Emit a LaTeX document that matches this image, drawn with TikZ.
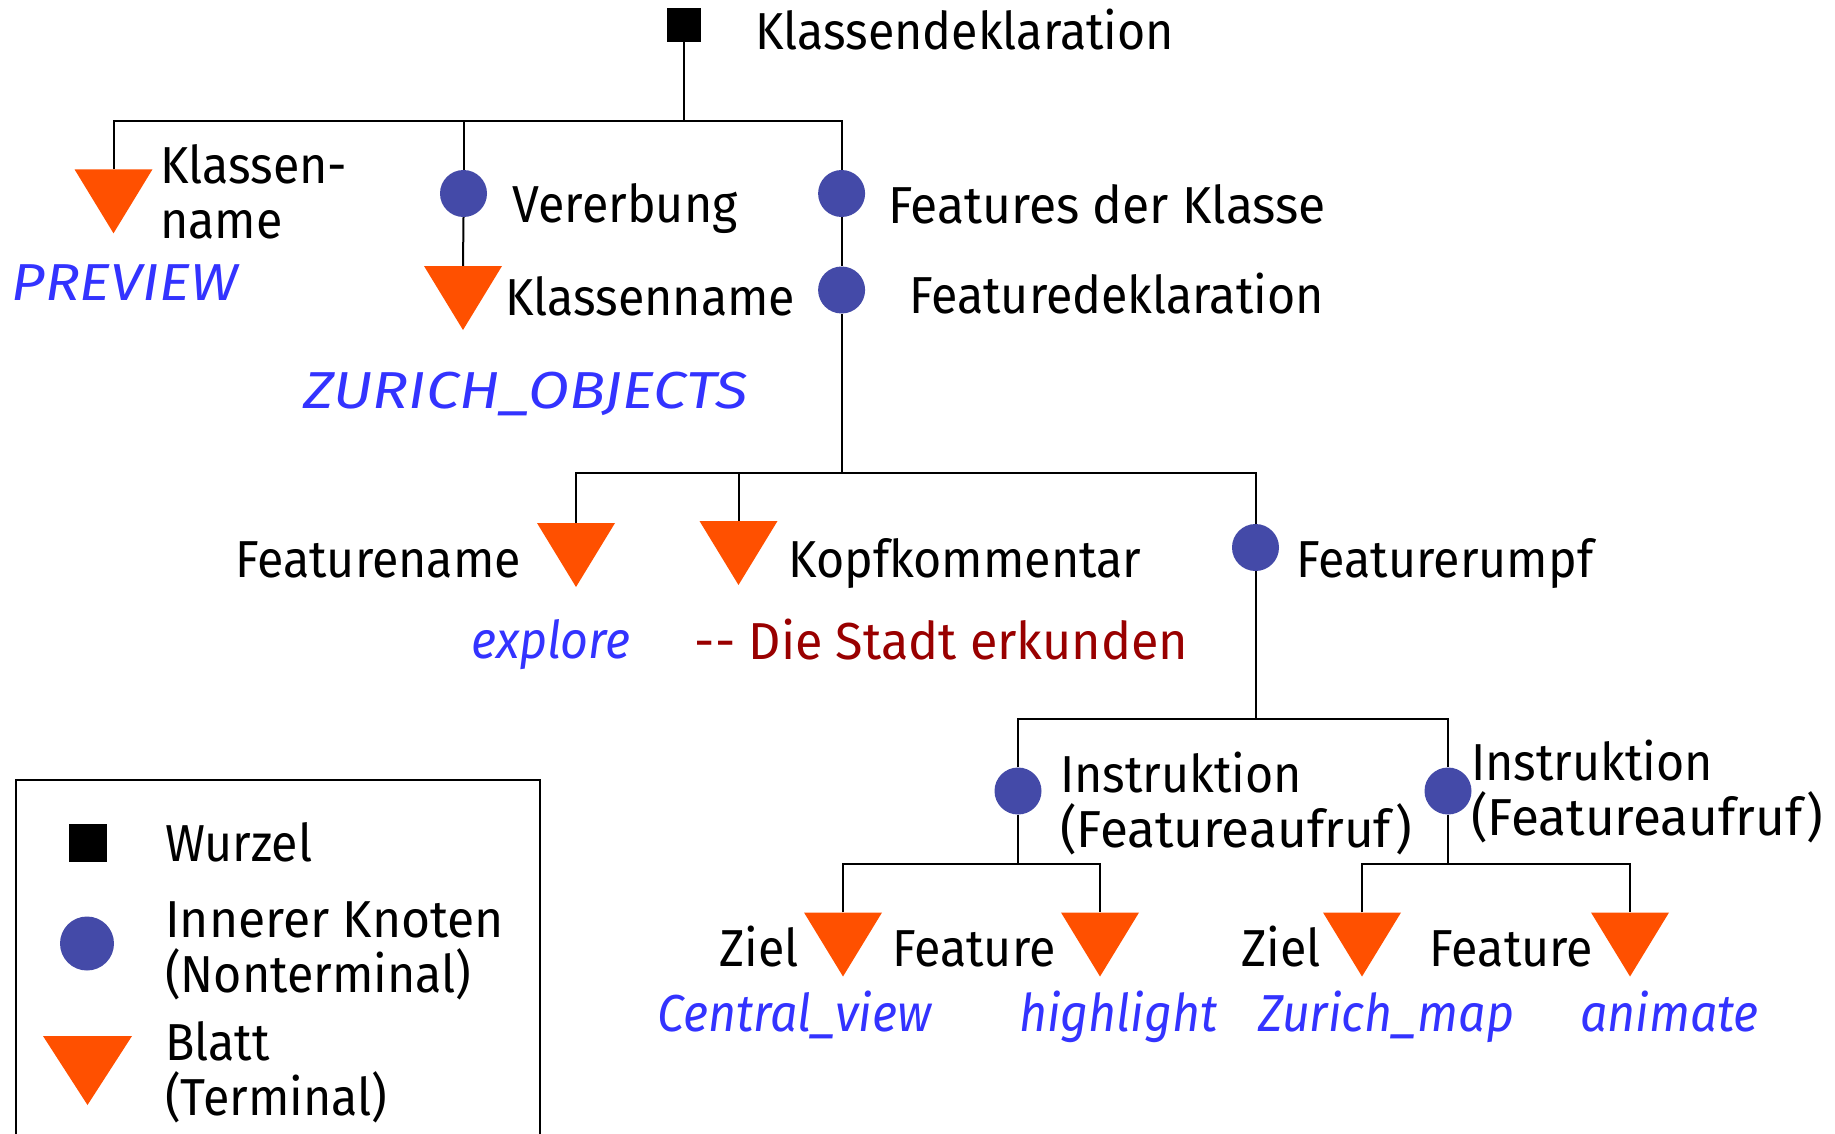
\documentclass[tikz,border=0pt]{standalone}
\usepackage{fontspec}
\setmainfont{Fira Sans}[FakeStretch=0.93]
\definecolor{leafc}{RGB}{255,80,0}
\definecolor{innerc}{RGB}{68,74,168}
\definecolor{termc}{RGB}{51,51,255}
\definecolor{commc}{RGB}{153,0,0}
\tikzset{
  lbl/.style={anchor=base west, inner sep=0pt, align=left, font=\fontsize{52}{55}\selectfont},
  term/.style={lbl, text=termc, font=\fontsize{52}{55}\selectfont\itshape},
  comm/.style={lbl, text=commc},
  rootbox/.style={rectangle, fill=black, minimum size=34pt, inner sep=0pt},
  inner/.style={circle, fill=innerc, minimum size=47pt, inner sep=0pt},
  leaf/.style={rectangle, minimum width=78pt, minimum height=64pt, inner sep=0pt,
    path picture={\fill[leafc] (path picture bounding box.north west) -- (path picture bounding box.north east) -- (path picture bounding box.south) -- cycle;}},
  edge/.style={draw=black, line width=2pt},
}
\begin{document}
\begin{tikzpicture}[x=1pt,y=-1pt]
\useasboundingbox[fill=white] (0,0) rectangle (1835,1133);

% bars
\coordinate (bar1) at (0,120.7);
\coordinate (bar2) at (0,472.6);
\coordinate (bar3) at (0,718.7);
\coordinate (bar4) at (0,864);

% shapes
\node[rootbox] (root) at (683.5,25) {};
\node[leaf] (tkn) at (113.5,201.3) {};
\node[inner] (cver) at (463.5,193.5) {};
\node[leaf] (tkn2) at (463,298) {};
\node[inner] (cfk) at (841.6,193.5) {};
\node[inner] (cfd) at (841.6,290) {};
\node[leaf] (tfn) at (576,555) {};
\node[leaf] (tkk) at (738.5,553) {};
\node[inner] (cfr) at (1255.5,547.5) {};
\node[inner] (ci1) at (1018,791) {};
\node[inner] (ci2) at (1448,791) {};
\node[leaf] (tz1) at (843,944.5) {};
\node[leaf] (tf1) at (1100,944.5) {};
\node[leaf] (tz2) at (1362,944.5) {};
\node[leaf] (tf2) at (1630,944.5) {};

% connectors
\draw[edge] (root.south) -- (root.south |- bar1);
\draw[edge] (tkn.north) -- (tkn.north |- bar1) -- (cfk.north |- bar1) -- (cfk.north);
\draw[edge] (cver.north) -- (cver.north |- bar1);
\draw[edge] (cver.south) -- (tkn2.north);
\draw[edge] (cfk.south) -- (cfd.north);
\draw[edge] (cfd.south) -- (cfd.south |- bar2);
\draw[edge] (tfn.north) -- (tfn.north |- bar2) -- (cfr.north |- bar2) -- (cfr.north);
\draw[edge] (tkk.north) -- (tkk.north |- bar2);
\draw[edge] (cfr.south) -- (cfr.south |- bar3);
\draw[edge] (ci1.north) -- (ci1.north |- bar3) -- (ci2.north |- bar3) -- (ci2.north);
\draw[edge] (ci1.south) -- (ci1.south |- bar4);
\draw[edge] (tz1.north) -- (tz1.north |- bar4) -- (tf1.north |- bar4) -- (tf1.north);
\draw[edge] (ci2.south) -- (ci2.south |- bar4);
\draw[edge] (tz2.north) -- (tz2.north |- bar4) -- (tf2.north |- bar4) -- (tf2.north);

% labels (multi-line nodes are placed at the baseline of their last line)
\node[lbl] (lroot) at (755,49) {Klassendeklaration};
\node[lbl] (lkn) at (160,238) {Klassen-\\name};
\node[term] (lprev) at (11.5,300) {\scalebox{1.2}[1]{PREVIEW}};
\node[lbl] (lver) at (512.6,222) {Vererbung};
\node[lbl] (lkn2) at (505,315) {Klassenname};
\node[term] (lzo) at (303,408) {\scalebox{1.24}[1]{ZURICH\_OBJECTS}};
\node[lbl] (lfk) at (888,223) {\scalebox{1.03}[1]{Features der Klasse}};
\node[lbl] (lfd) at (909,313) {Featuredeklaration};
\node[lbl] (lfn) at (235,577) {Featurename};
\node[lbl] (lkk) at (788,577) {Kopfkommentar};
\node[lbl] (lfr) at (1296.5,577) {Featurerumpf};
\node[term] (lexp) at (471,658) {explore};
\node[comm] (lcomm) at (694.6,659) {\scalebox{1.04}[1]{-{}- Die Stadt erkunden}};
\node[lbl] (li1) at (1059.8,847) {Instruktion\\\scalebox{1.06}[1]{(Featureaufruf)}};
\node[lbl] (li2) at (1471,835.5) {Instruktion\\\scalebox{1.06}[1]{(Featureaufruf)}};
\node[lbl] (lz1) at (719,966) {Ziel};
\node[lbl] (lf1) at (892,966) {Feature};
\node[lbl] (lz2) at (1241,966) {Ziel};
\node[lbl] (lf2) at (1429.5,966) {Feature};
\node[term] (lcv) at (657,1031) {Central\_view};
\node[term] (lhl) at (1019,1031) {highlight};
\node[term] (lzm) at (1257.8,1031) {Zurich\_map};
\node[term] (lan) at (1579.8,1031) {animate};

% legend
\node[draw=black, line width=2pt, rectangle, minimum width=524pt, minimum height=380pt, inner sep=0pt] (legend) at (278,970) {};
\node[rootbox, minimum size=38pt] (lgsq) at (88,842.5) {};
\node[inner, minimum size=54pt] (lgci) at (87,943.5) {};
\node[leaf, minimum width=89pt, minimum height=69pt] (lgtr) at (87.5,1070.5) {};
\node[lbl] (lgw) at (165,861) {Wurzel};
\node[lbl] (lgi) at (165,992) {\scalebox{1.03}[1]{Innerer Knoten}\\(Nonterminal)};
\node[lbl] (lgb) at (165,1115.5) {Blatt\\(Terminal)};
\end{tikzpicture}
\end{document}
